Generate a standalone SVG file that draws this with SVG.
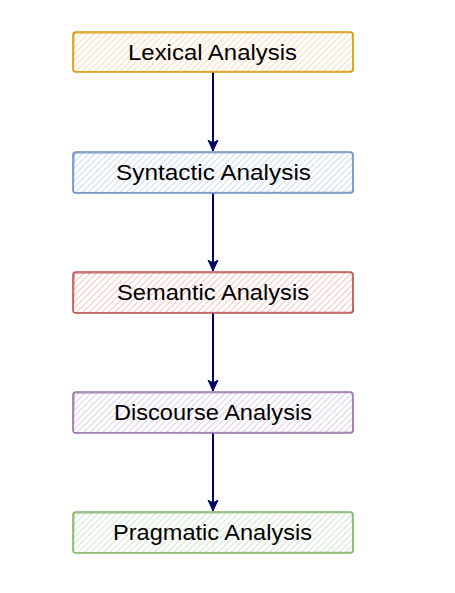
<svg xmlns="http://www.w3.org/2000/svg" width="455" height="593" viewBox="0 0 455 593">
<style>
.lbl{font-family:"Comic Sans MS","Liberation Sans",sans-serif;font-size:22px;fill:#000;text-anchor:middle}
.edge{stroke:#000066;stroke-width:2;fill:none}
.b1{stroke-width:1.6}
.b2{stroke-width:0.9;fill:none;opacity:0.55}
</style>
<defs>
<pattern id="hOrange" patternUnits="userSpaceOnUse" width="4.5" height="4.5" patternTransform="rotate(45)"><rect width="5" height="5" fill="#fff"/><line x1="0" y1="0" x2="0" y2="5" stroke="#ffd2a6" stroke-width="1.6"/></pattern>
<pattern id="hBlue" patternUnits="userSpaceOnUse" width="4.5" height="4.5" patternTransform="rotate(45)"><rect width="5" height="5" fill="#fff"/><line x1="0" y1="0" x2="0" y2="5" stroke="#bfd5f3" stroke-width="1.6"/></pattern>
<pattern id="hRed" patternUnits="userSpaceOnUse" width="4.5" height="4.5" patternTransform="rotate(45)"><rect width="5" height="5" fill="#fff"/><line x1="0" y1="0" x2="0" y2="5" stroke="#f3b9b6" stroke-width="1.6"/></pattern>
<pattern id="hPurple" patternUnits="userSpaceOnUse" width="4.5" height="4.5" patternTransform="rotate(45)"><rect width="5" height="5" fill="#fff"/><line x1="0" y1="0" x2="0" y2="5" stroke="#d7c5e0" stroke-width="1.6"/></pattern>
<pattern id="hGreen" patternUnits="userSpaceOnUse" width="4.5" height="4.5" patternTransform="rotate(45)"><rect width="5" height="5" fill="#fff"/><line x1="0" y1="0" x2="0" y2="5" stroke="#c7e0c5" stroke-width="1.6"/></pattern>
<marker id="arr" markerUnits="userSpaceOnUse" markerWidth="12" markerHeight="12" refX="11" refY="6" orient="auto" viewBox="0 0 12 12">
<path d="M0,1 L11,6 L0,11 L3,6 Z" fill="#000066" stroke="#000066" stroke-width="1" stroke-linejoin="round"/>
</marker>
</defs>
<rect width="455" height="593" fill="#fff"/>
<g id="connectors">
<path class="edge" d="M213,72 L213,151" marker-end="url(#arr)"/>
<path class="edge" d="M213,193 L213,271" marker-end="url(#arr)"/>
<path class="edge" d="M213,313 L213,391" marker-end="url(#arr)"/>
<path class="edge" d="M213,433 L213,511" marker-end="url(#arr)"/>
</g>
<g id="lexical">
<rect class="b1" x="73" y="32" width="280" height="40" rx="3" fill="url(#hOrange)" stroke="#d79b00"/>
<path class="b2" d="M74.5,33.5 L352,32.8 L353.5,71 L73.5,71.5 Z" stroke="#d79b00"/>
<text class="lbl" x="212.5" y="60" textLength="169" lengthAdjust="spacingAndGlyphs">Lexical Analysis</text>
</g>
<g id="syntactic">
<rect class="b1" x="73" y="152" width="280" height="41" rx="3" fill="url(#hBlue)" stroke="#6c8ebf"/>
<path class="b2" d="M74.5,153.5 L352,152.8 L353.5,192 L73.5,192.5 Z" stroke="#6c8ebf"/>
<text class="lbl" x="213.5" y="180" textLength="195" lengthAdjust="spacingAndGlyphs">Syntactic Analysis</text>
</g>
<g id="semantic">
<rect class="b1" x="73" y="272" width="280" height="41" rx="3" fill="url(#hRed)" stroke="#b85450"/>
<path class="b2" d="M74.5,273.5 L352,272.8 L353.5,312 L73.5,312.5 Z" stroke="#b85450"/>
<text class="lbl" x="213" y="300" textLength="192" lengthAdjust="spacingAndGlyphs">Semantic Analysis</text>
</g>
<g id="discourse">
<rect class="b1" x="73" y="392" width="280" height="41" rx="3" fill="url(#hPurple)" stroke="#9673a6"/>
<path class="b2" d="M74.5,393.5 L352,392.8 L353.5,432 L73.5,432.5 Z" stroke="#9673a6"/>
<text class="lbl" x="213" y="420" textLength="198" lengthAdjust="spacingAndGlyphs">Discourse Analysis</text>
</g>
<g id="pragmatic">
<rect class="b1" x="73" y="512" width="280" height="41" rx="3" fill="url(#hGreen)" stroke="#82b366"/>
<path class="b2" d="M74.5,513.5 L352,512.8 L353.5,552 L73.5,552.5 Z" stroke="#82b366"/>
<text class="lbl" x="212.5" y="540" textLength="199" lengthAdjust="spacingAndGlyphs">Pragmatic Analysis</text>
</g>
</svg>
